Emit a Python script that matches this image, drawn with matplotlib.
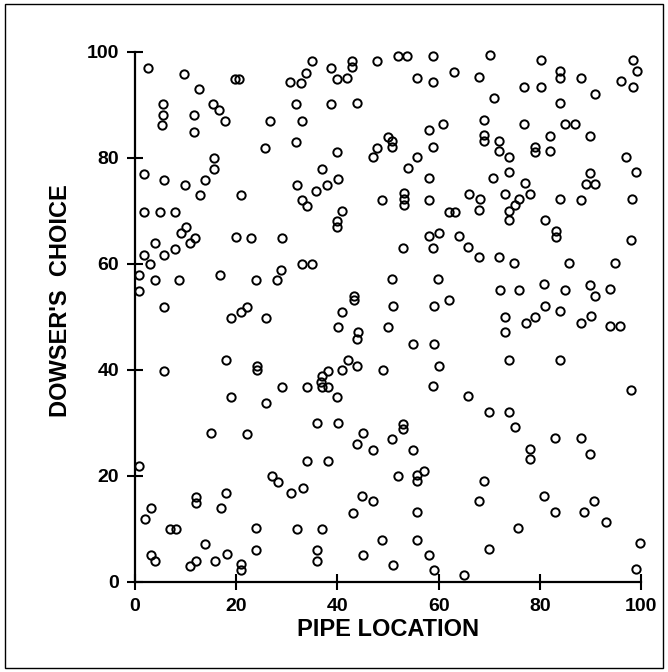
import numpy as np
import matplotlib
matplotlib.use("Agg")
import matplotlib.pyplot as plt
from matplotlib.patches import Rectangle

# pipe location (x) vs dowser's choice (y)
pipe_x = [
    2.5, 9.6, 12.7, 19.8, 20.6, 5.5, 5.5, 5.4, 11.7, 11.7, 15.5, 16.6, 17.7, 26.7, 25.7,
    15.7, 15.7, 13.8, 12.8, 20.9, 1.8, 5.7, 9.9, 1.8, 4.9, 7.9, 10.0, 9.0,
    3.9, 1.7, 5.7, 8.0, 10.8, 11.9, 2.9, 0.75, 3.9, 8.8, 0.8, 5.8, 16.8, 19.9, 23.0,
    23.9, 18.9, 21.0, 22.1, 25.8, 5.8, 18.0, 24.1, 24.1, 18.9, 25.9,
    15.0, 22.1, 0.9, 3.1, 1.9, 7.0, 8.1, 12.0, 12.0, 18.0, 16.9, 23.9, 24.0, 3.1, 4.0,
    10.9, 12.1, 13.9, 15.9, 18.1, 21.0, 21.0,
    34.9, 33.8, 32.8, 30.6, 38.8, 42.9, 42.9, 39.9, 41.9, 47.9, 51.9, 53.8, 31.9, 38.8,
    43.8, 32.9, 31.8, 40.0, 49.9, 50.7, 50.8, 47.9, 47.0, 37.0, 32.0, 35.8, 38.0, 40.1,
    33.0, 33.9, 40.8, 40.0, 40.0, 48.8, 53.1, 53.1, 53.1,
    29.0, 52.9, 28.9, 28.0, 33.0, 35.0, 50.8, 43.2, 43.2, 40.9, 50.9, 40.1, 50.0, 44.0,
    43.9, 42.0, 40.8, 43.9, 38.1, 36.9, 36.8, 37.0, 38.1, 29.0, 34.0, 40.0, 48.9, 35.9, 40.1,
    45.1, 43.9, 47.0, 50.8, 34.0, 38.1, 27.1, 28.2, 30.9, 33.1, 44.9, 47.0, 43.0, 52.0,
    32.0, 37.0, 36.0, 35.9, 45.0, 48.8, 51.0,
    58.9, 70.1, 80.2, 55.7, 58.9, 63.1, 68.0, 76.9, 80.1, 70.9, 68.9, 76.9, 58.0, 60.9,
    68.9, 68.9, 71.9, 71.9, 73.8, 79.0, 79.0, 58.8, 55.8, 53.9, 58.0, 70.8, 73.9, 77.0,
    78.1, 73.0, 75.9, 75.0, 73.8, 73.9, 58.0, 65.9, 68.1, 68.0, 62.1, 63.2, 60.0, 58.0, 64.0,
    58.9, 65.8, 68.0, 71.9, 74.9, 59.9, 72.0, 75.9, 59.0, 62.1, 73.0, 77.3, 79.0, 73.0,
    54.9, 59.0, 73.8, 60.0, 58.9, 65.8, 69.9, 73.8, 53.0, 53.0, 75.0,
    55.0, 55.8, 57.0, 55.8, 68.9, 78.0, 78.0, 68.0, 55.8, 75.7, 55.7, 69.9, 58.1, 59.0, 65.0,
    83.9, 83.9, 88.1, 98.3, 99.2, 96.0, 98.3, 90.9, 83.9, 85.0, 87.0, 82.0, 89.9, 81.9,
    97.0, 99.0, 89.9, 89.0, 90.9, 83.9, 88.0, 98.1, 80.9, 83.1, 83.1, 98.0,
    85.7, 94.9, 80.8, 85.0, 89.8, 90.8, 93.9, 80.9, 83.9, 90.0, 88.1, 93.9, 95.8, 83.9, 98.0,
    83.0, 88.0, 89.9, 80.8, 90.7, 82.9, 88.7, 93.0, 99.8, 98.9,
]
dowser_y = [
    96.9, 95.8, 92.9, 94.9, 94.9, 90.1, 88.0, 86.2, 88.1, 84.9, 90.2, 89.1, 86.9, 87.0, 81.8,
    80.0, 77.8, 75.8, 72.9, 73.0, 77.0, 75.8, 74.8, 69.8, 69.8, 69.7, 66.9, 65.9,
    64.0, 61.7, 61.7, 62.8, 63.9, 64.8, 59.9, 57.8, 57.0, 57.0, 54.9, 51.8, 57.9, 65.0, 64.9,
    57.0, 49.8, 50.9, 51.9, 49.8, 39.8, 41.8, 40.8, 39.9, 34.8, 33.8,
    28.0, 27.9, 21.8, 14.0, 11.9, 9.9, 9.9, 16.1, 14.9, 16.8, 14.0, 10.1, 6.1, 5.0, 4.0,
    3.1, 3.9, 7.2, 4.0, 5.2, 3.3, 2.2,
    98.2, 96.0, 94.1, 94.2, 97.0, 98.3, 97.1, 94.9, 95.0, 98.2, 99.2, 99.2, 90.2, 90.2,
    90.3, 87.0, 82.9, 81.0, 84.0, 83.1, 82.0, 81.9, 80.1, 77.8, 74.9, 73.7, 74.8, 76.0,
    72.0, 70.9, 69.9, 68.1, 66.9, 72.1, 73.3, 72.2, 71.1,
    64.9, 63.0, 58.9, 57.0, 60.0, 59.9, 57.1, 54.0, 53.1, 51.0, 52.0, 48.1, 48.1, 47.1,
    45.8, 41.8, 40.0, 40.7, 39.8, 38.9, 37.8, 36.7, 36.7, 36.7, 36.7, 34.9, 40.0, 29.9, 30.0,
    28.0, 26.0, 24.8, 27.0, 22.9, 22.9, 19.9, 18.8, 16.8, 17.8, 16.2, 15.2, 13.0, 20.0,
    10.0, 10.0, 6.0, 3.9, 5.1, 8.0, 3.2,
    99.2, 99.3, 98.4, 95.1, 94.2, 96.1, 95.2, 93.3, 93.4, 91.3, 87.2, 86.4, 85.3, 86.4,
    84.3, 83.2, 83.2, 81.2, 80.1, 82.1, 81.1, 82.0, 80.1, 78.0, 76.1, 76.2, 77.3, 75.2,
    73.2, 73.2, 72.2, 71.1, 70.0, 68.2, 72.1, 73.1, 72.3, 70.1, 69.8, 69.8, 65.9, 65.2, 65.2,
    63.0, 63.1, 61.2, 61.2, 60.1, 57.1, 55.1, 55.0, 52.0, 53.1, 50.0, 48.9, 50.0, 47.1,
    44.8, 44.8, 41.9, 40.8, 36.9, 35.0, 32.1, 32.0, 29.8, 28.8, 29.3,
    24.9, 20.1, 20.9, 19.0, 19.1, 25.1, 23.2, 15.3, 13.2, 10.2, 8.0, 6.3, 5.1, 2.3, 1.3,
    96.3, 95.0, 95.1, 98.4, 96.3, 94.4, 93.3, 92.1, 90.3, 86.4, 86.4, 84.2, 84.2, 81.2,
    80.2, 77.3, 77.2, 75.1, 75.0, 72.2, 72.1, 72.2, 68.2, 66.1, 65.1, 64.5,
    60.1, 60.2, 56.2, 55.1, 56.1, 54.0, 55.2, 52.1, 51.1, 50.1, 48.9, 48.2, 48.2, 41.9, 36.2,
    27.1, 27.2, 24.2, 16.3, 15.3, 13.1, 13.2, 11.4, 7.4, 2.5,
]
ticks = [0, 20, 40, 60, 80, 100]

plt.rcParams["font.family"] = ["Liberation Sans", "DejaVu Sans"]
plt.rcParams["font.weight"] = "bold"

fig = plt.figure(figsize=(6.68, 6.72), dpi=100, facecolor="white")
ax = fig.add_axes([0.202, 0.134, 0.758, 0.789])

ax.plot(pipe_x, dowser_y, "o", mfc="none", mec="black", ms=6, mew=1.4,
        linestyle="none", clip_on=False)

ax.set_xlim(0, 100)
ax.set_ylim(0, 100)
ax.set_xticks(ticks)
ax.set_yticks(ticks)
ax.spines["top"].set_visible(False)
ax.spines["right"].set_visible(False)
ax.spines["left"].set_linewidth(1.6)
ax.spines["bottom"].set_linewidth(1.6)
ax.tick_params(direction="inout", length=11, width=1.5, labelsize=14, pad=6)
for lab in ax.get_xticklabels() + ax.get_yticklabels():
    lab.set_fontweight("bold")

ax.set_xlabel("PIPE LOCATION", fontsize=17, fontweight="bold", labelpad=2)
ax.set_ylabel("DOWSER'S  CHOICE", fontsize=17, fontweight="bold", labelpad=12)
ax.yaxis.set_label_coords(-0.125, 0.53)

# border of the scanned page
fig.patches.append(Rectangle((0.008, 0.006), 0.984, 0.988, transform=fig.transFigure,
                             fill=False, edgecolor="black", linewidth=1.0))

fig.savefig("out.png", dpi=100)
